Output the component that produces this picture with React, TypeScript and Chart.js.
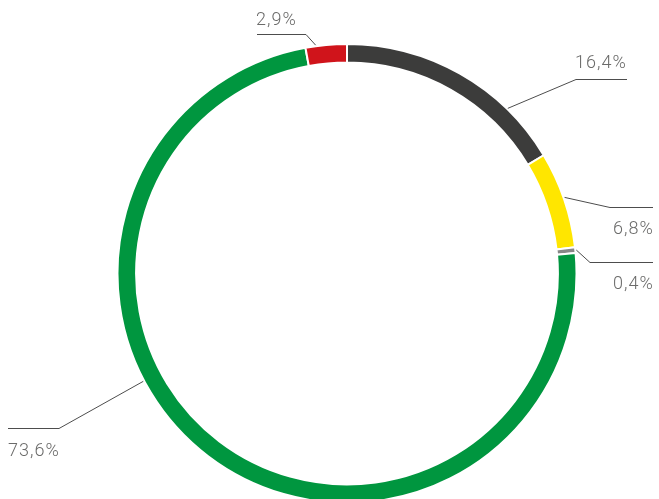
import React, { useEffect, useRef } from "react";
import { Chart, registerables } from "chart.js";

Chart.register(...registerables);

const categories = ["A", "B", "C", "D", "E"];
const values = [16.4, 6.8, 0.4, 73.6, 2.9];
const valueLabels = ["16,4%", "6,8%", "0,4%", "73,6%", "2,9%"];
const colors = ["#3c3c3b", "#ffe600", "#878787", "#00963f", "#d0141b"];

// Annotation layout: anchor fraction along arc, elbow point, horizontal end, text position
const labelLayout = [
  { t: 0.75, ex: 576, ey: 79, hx: 627, tx: 575, ty: 63 },
  { t: 0.48, ex: 610, ey: 207, hx: 653, tx: 613, ty: 229 },
  { t: 0.5, ex: 590, ey: 262, hx: 653, tx: 613, ty: 284 },
  { t: 0.594, ex: 59, ey: 428, hx: 8, tx: 8, ty: 451 },
  { t: 0.25, ex: 306, ey: 34, hx: 257, tx: 256, ty: 20 },
];

const leaderPlugin = {
  id: "leaders",
  afterDatasetsDraw(chart: any) {
    const ctx = chart.ctx;
    const meta = chart.getDatasetMeta(0);
    ctx.save();
    meta.data.forEach((arc: any, i: number) => {
      const L = labelLayout[i];
      const p = arc.getProps(["x", "y", "startAngle", "endAngle", "outerRadius"], true);
      const a = p.startAngle + L.t * (p.endAngle - p.startAngle);
      const r = p.outerRadius + 1;
      const ax = p.x + Math.cos(a) * r;
      const ay = p.y + Math.sin(a) * r;
      ctx.strokeStyle = "#4d4d4d";
      ctx.lineWidth = 1;
      ctx.beginPath();
      ctx.moveTo(ax, ay);
      ctx.lineTo(L.ex, L.ey + 0.5);
      ctx.lineTo(L.hx, L.ey + 0.5);
      ctx.stroke();
      ctx.fillStyle = "#6b6b6a";
      ctx.font = "300 18px Roboto";
      try { (ctx as any).letterSpacing = "1px"; } catch (e) {}
      ctx.textAlign = "left";
      ctx.textBaseline = "middle";
      ctx.fillText(valueLabels[i], L.tx, L.ty);
    });
    ctx.restore();
  },
};

export default function App() {
  const ref = useRef<HTMLCanvasElement>(null);
  useEffect(() => {
    if (!ref.current) return;
    const chart = new Chart(ref.current, {
      type: "doughnut",
      data: {
        labels: categories,
        datasets: [
          {
            data: values,
            backgroundColor: colors,
            borderColor: "#ffffff",
            borderWidth: 2,
          },
        ],
      },
      options: {
        responsive: false,
        animation: false,
        radius: 229.5,
        cutout: "91.9%",
        rotation: 0,
        layout: { padding: { left: 35, top: 48, right: 0, bottom: 0 } },
        plugins: { legend: { display: false }, tooltip: { enabled: false } },
      } as any,
      plugins: [leaderPlugin],
    });
    return () => chart.destroy();
  }, []);
  return (
    <div style={{ position: "absolute", left: 0, top: 0, width: 659, height: 499 }}>
      <canvas ref={ref} width={659} height={499} style={{ display: "block" }} />
    </div>
  );
}
